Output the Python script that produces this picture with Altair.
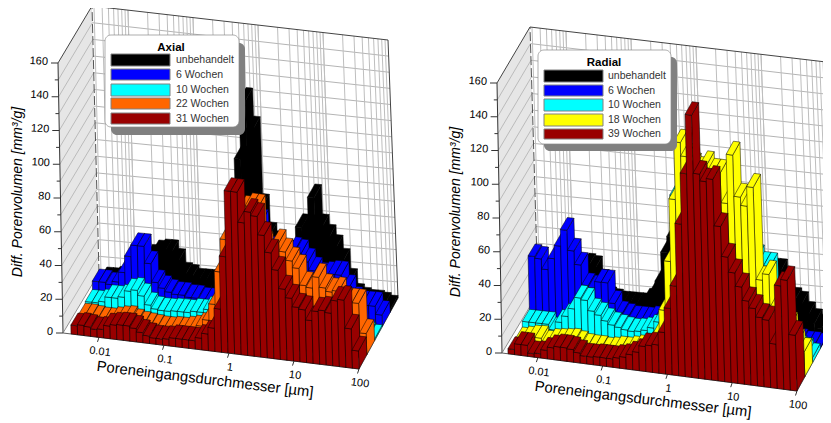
import math
import altair as alt

# ---------- values ----------
CATEGORIES_L = ["31 Wochen", "22 Wochen", "10 Wochen", "6 Wochen", "unbehandelt"]
CATEGORIES_R = ["39 Wochen", "18 Wochen", "10 Wochen", "6 Wochen", "unbehandelt"]
COLORS_L = ["#990000", "#FF6600", "#00FFFF", "#0000FF", "#000000"]
COLORS_R = ["#990000", "#FFFF00", "#00FFFF", "#0000FF", "#000000"]

L_31 = [5.3,6,5.5,4.5,5,7.5,8.5,9,9,8,6,4.5,3.6,3.6,4,5,5,5,5,7,10,14,26,58,98,98,80,87,85,74,64,54,43,38,33,32,26,32,33,32,40,41,24,11]
L_22 = [4,4,3.5,3,3,4,5,5.5,4,3,2.5,2,1.5,1.5,2,2,3,4,6,10,20,40,60,70,75,80,82,82,60,55,62,57,52,48,38,37,44,38,36,37,31,31,31,13]
L_10 = [5,5,6,9,9,10,14,15,12,7,5,4.5,4.5,5,5,5,6,6,8,10,20,30,45,60,70,50,30,25,20,18,18,18,18,18,18,18,18,18,15,12,5,3,2,1]
L_06 = [10,10,9,11,17,27,34,34,24,13,10,8,7,7,6,6,5,5,5,5,6,8,20,60,60,56,40,35,30,30,41,40,35,30,27,28,29,29,21,14,12,12,12,7]
L_00 = [4,4,5,5,6,8,12,20,23,24,24,19,11,10,8,8,8,8,10,10,60,85,121,104,57,40,35,30,30,32,47,47,66,48,42,36,28,16,7,5,4,4,3,1.5]

R_39 = [3,6.5,6.5,2,2.5,5,7,8,8,7.5,6,4.5,4.5,5,5,5,6,7,9,11,15,16,17,25,40,54,92,123,159,124,120,122,94,76,67,59,51,47,42,41,27,63,67,34]
R_18 = [1.6,2.6,3.7,4,1.5,3,3.5,4,4.5,3.5,2.3,2,2,1.5,2,3,3,4,5,6,8,15,30,60,98,133,125,120,118,122,118,118,100,130,105,100,112,56,60,40,30,30,20,15]
R_10 = [5,5,5,5,2,7,11,16,23,22,16,14,11,9,8,7,6.5,7,8,10,14,20,45,92,92,80,60,50,50,50,55,55,60,60,60,60,56,56,30,15,10,7,6,3]
R_06 = [37,36,30,37,45,55,43,35,23,22,26,26,14,8,7,6,6,6,7,8,12,20,30,30,30,30,30,30,30,30,30,30,30,30,30,30,30,30,10,6,2,1,1,0.5]
R_00 = [5,5,5,5,20,25,26,27,26,18,8,7,6,6,6,6,9,14,22,40,50,60,60,60,60,60,50,50,50,40,40,40,40,35,35,35,35,22,18,16,10,6,3,2]

Y_TICKS = [0, 20, 40, 60, 80, 100, 120, 140, 160]
X_TICKS = [("0.01", 0.01), ("0.1", 0.1), ("1", 1), ("10", 10), ("100", 100)]
XTITLE = "Poreneingangsdurchmesser [µm]"
YTITLE = "Diff. Porenvolumen [mm³/g]"

# ---------- layout of the two panels (page pixels) ----------
OFF = 8
LEFT = dict(FL=(63,333), FR=(359,369), BR=(398,298), BL=(99,273),
            FLt=(58,63), FRt=(351,107), BRt=(388,40), BLt=(92,6), u0=8/296,
            box=(105,35,239,127), shadow=(6,8), swx=(111,170), swy=[54,69,84,98,113], swh=[12,11,12,11,11],
            title="Axial", tpos=(171,48), labx=176,
            xt=(205,380), yt=(18,192), ya=270)
RIGHT = dict(FL=(502,353), FR=(797,391), BR=(836,320), BL=(538,293),
             FLt=(497,83), FRt=(789,129), BRt=(826,62), BLt=(530,27), u0=6/295,
             box=(538,50,671,144), shadow=(6,7), swx=(544,603), swy=[70,85,99,114,129], swh=[12,11,12,12,10],
             title="Radial", tpos=(604,63), labx=608,
             xt=(643,400), yt=(456,212), ya=270)
DECADE = 0.2196
YMAX = 160.0

def lerp(a, b, t):
    return (a[0]+(b[0]-a[0])*t, a[1]+(b[1]-a[1])*t)

def P(g, u, d, h):
    f0, f1 = lerp(g["FL"], g["FR"], u), lerp(g["FLt"], g["FRt"], u)
    b0, b1 = lerp(g["BL"], g["BR"], u), lerp(g["BLt"], g["BRt"], u)
    low, top = lerp(f0, b0, d), lerp(f1, b1, d)
    p = lerp(low, top, h / YMAX)
    return [round(p[0]-OFF, 2), round(p[1]-OFF, 2)]

def poly(pts, fill, stroke="#000000", w=0.5):
    return {"type": "Feature", "properties": {"fill": fill, "stroke": stroke, "w": w},
            "geometry": {"type": "Polygon", "coordinates": [pts + [pts[0]]]}}

def line(pts, stroke, w=1.0):
    return {"type": "Feature", "properties": {"fill": "none", "stroke": stroke, "w": w},
            "geometry": {"type": "LineString", "coordinates": pts}}

def uval(g, v):
    return 1 + (math.log10(v) - 2) * DECADE

walls, grid, dashed, bars = [], [], [], []

def panel(g, series, colors):
    walls.append(poly([P(g,0,0,0),P(g,0,1,0),P(g,0,1,YMAX),P(g,0,0,YMAX)], "#E6E6E6", "#E6E6E6", 0))
    walls.append(poly([P(g,0,1,0),P(g,1,1,0),P(g,1,1,YMAX),P(g,0,1,YMAX)], "#FFFFFF", "#FFFFFF", 0))
    for h in range(10, 160, 10):
        grid.append(line([P(g,0,1,h),P(g,1,1,h)], "#B4B4B4", 1))
        grid.append(line([P(g,0,0,h),P(g,0,1,h)], "#A8A8A8", 0.7))
    for e in range(-3, 2):
        for m in range(1, 11):
            u = uval(g, m * 10.0**e)
            if 0 < u < 1:
                grid.append(line([P(g,u,1,0),P(g,u,1,YMAX)], "#BEBEBE", 1))
    grid.append(line([P(g,0,0,YMAX),P(g,0,1,YMAX),P(g,1,1,YMAX),P(g,1,1,0)], "#444444", 1))
    grid.append(line([P(g,0,0,0),P(g,0,0,YMAX)], "#333333", 1))
    grid.append(line([P(g,0,0,0),P(g,1,0,0)], "#333333", 0.8))
    grid.append(line([P(g,0,0,0),P(g,0,1,0),P(g,1,1,0),P(g,1,0,0)], "#777777", 0.8))
    dashed.append(line([P(g,0,1,0),P(g,0,1,YMAX)], "#555555", 1))
    for h in range(0, 170, 10):
        a = P(g,0,0,h)
        ln = 7 if h % 20 == 0 else 3.5
        grid.append(line([a,[a[0]-ln,a[1]]], "#333333", 1))
    for _, v in X_TICKS:
        a = P(g, uval(g,v), 0, 0)
        grid.append(line([a,[a[0]-1.5,a[1]+4.5]], "#333333", 1))
    n = len(series[0])
    du = (1 - g["u0"]) / n
    for r in range(4, -1, -1):
        d0, d1 = r/5, (r+1)/5
        for i, v in enumerate(series[r]):
            u0, u1 = g["u0"]+i*du, g["u0"]+(i+1)*du
            c = colors[r]
            bars.append(poly([P(g,u1,d0,0),P(g,u1,d1,0),P(g,u1,d1,v),P(g,u1,d0,v)], c))
            bars.append(poly([P(g,u0,d0,0),P(g,u1,d0,0),P(g,u1,d0,v),P(g,u0,d0,v)], c))
            bars.append(poly([P(g,u0,d0,v),P(g,u1,d0,v),P(g,u1,d1,v),P(g,u0,d1,v)], c))

panel(LEFT, [L_31,L_22,L_10,L_06,L_00], COLORS_L)
panel(RIGHT, [R_39,R_18,R_10,R_06,R_00], COLORS_R)

def shapes(feats, dash=None, filled=True):
    kw = {"strokeDash": dash} if dash else {}
    enc = dict(stroke=alt.Stroke("properties.stroke:N", scale=None),
               strokeWidth=alt.StrokeWidth("properties.w:Q", scale=None))
    if filled:
        enc["fill"] = alt.Fill("properties.fill:N", scale=None)
    return (alt.Chart(alt.Data(values=feats))
            .mark_geoshape(filled=filled, **kw)
            .encode(**enc)
            .project(type="identity", scale=1, translate=[0, 0]))

def texts(rows, **mk):
    mk.setdefault("font", "Liberation Sans")
    return (alt.Chart(alt.Data(values=rows))
            .mark_text(baseline="middle", **mk)
            .encode(x=alt.X("x:Q", scale=None, axis=None),
                    y=alt.Y("y:Q", scale=None, axis=None),
                    text="t:N",
                    angle=alt.Angle("a:Q", scale=None)))

def T(x, y, t, a=0):
    return {"x": x-OFF, "y": y-OFF, "t": t, "a": a}

def rects(rows, **mk):
    return (alt.Chart(alt.Data(values=rows)).mark_rect(**mk)
            .encode(x=alt.X("x:Q", scale=None, axis=None), x2="x2:Q",
                    y=alt.Y("y:Q", scale=None, axis=None), y2="y2:Q",
                    fill=alt.Fill("c:N", scale=None)))

def R(x, y, x2, y2, c="#000"):
    return {"x": x-OFF, "y": y-OFF, "x2": x2-OFF, "y2": y2-OFF, "c": c}

ytick_rows, xtick_rows, xt_rows, yt_rows, leg_rows, leg_titles = [], [], [], [], [], []
shadows, boxes, swatches = [], [], []
for g, cats, cols in [(LEFT, CATEGORIES_L, COLORS_L), (RIGHT, CATEGORIES_R, COLORS_R)]:
    for h in Y_TICKS:
        a = P(g,0,0,h)
        ytick_rows.append(T(a[0]+OFF-10, a[1]+OFF-1, str(h), 3))
    for lab, v in X_TICKS:
        a = P(g, uval(g,v), 0, 0)
        xtick_rows.append(T(a[0]+OFF+1, a[1]+OFF+14.5, lab, 7))
    xt_rows.append(T(g["xt"][0], g["xt"][1], XTITLE, 6.9))
    yt_rows.append(T(g["yt"][0], g["yt"][1], YTITLE, g["ya"]))
    x0,y0,x1,y1 = g["box"]
    sx,sy = g["shadow"]
    shadows.append(R(x0+sx,y0+sy,x1+sx,y1+sy,"#808080"))
    boxes.append(R(x0,y0,x1,y1,"#FFFFFF"))
    leg_titles.append(T(g["tpos"][0], g["tpos"][1], g["title"]))
    for k, r in enumerate([4,3,2,1,0]):
        swatches.append(R(g["swx"][0], g["swy"][k], g["swx"][1], g["swy"][k]+g["swh"][k], cols[r]))
        leg_rows.append(T(g["labx"], g["swy"][k]+g["swh"][k]/2, cats[r]))

chart = alt.layer(
    shapes(walls),
    shapes(grid, filled=False),
    shapes(dashed, dash=[9, 3], filled=False),
    shapes(bars),
    texts(ytick_rows, align="right", fontSize=11, color="#000000"),
    texts(xtick_rows, align="center", fontSize=11, color="#000000"),
    texts(xt_rows, align="center", fontSize=14.8, color="#000000"),
    texts(yt_rows, align="center", fontSize=14, fontStyle="italic", color="#000000"),
    rects(shadows, cornerRadius=6),
    rects(boxes, cornerRadius=6, stroke="#8A8A8A", strokeWidth=0.7),
    rects(swatches, stroke="#808080", strokeWidth=1),
    texts(leg_titles, align="center", fontSize=11.5, fontWeight="bold", color="#000000"),
    texts(leg_rows, align="left", fontSize=10.5, color="#333333"),
).properties(width=815, height=415, padding=0,
             autosize=alt.AutoSizeParams(type="none")
).configure_view(stroke=None)

chart.save("out.html", embed_options={"renderer": "svg", "actions": False})
